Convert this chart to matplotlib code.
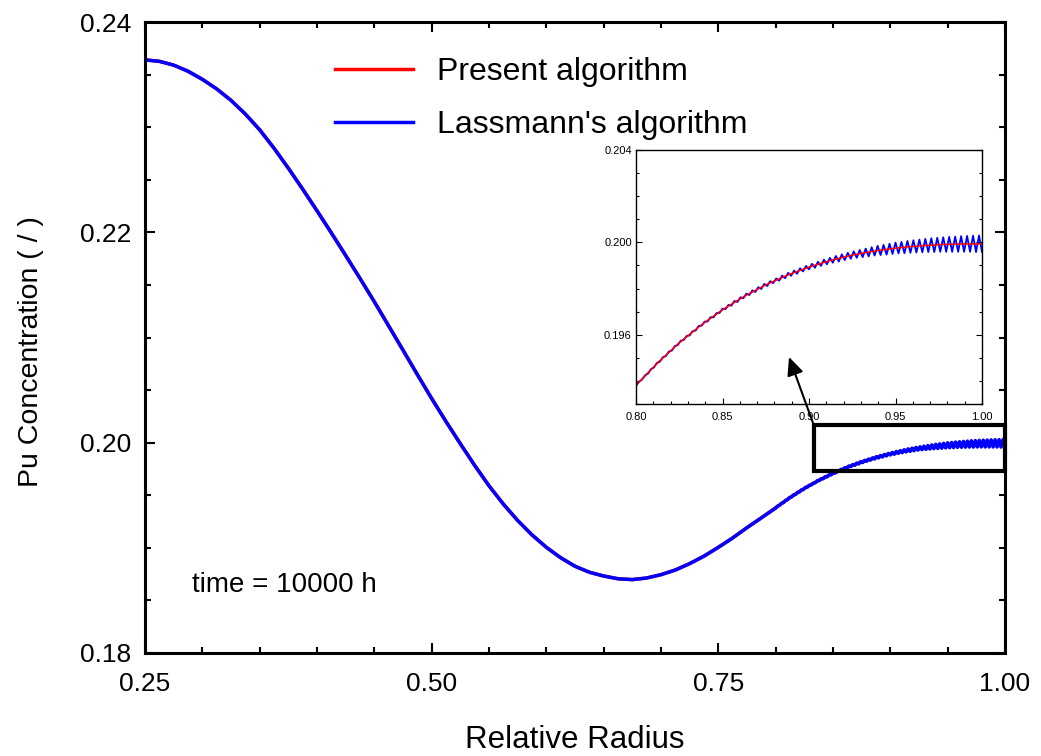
import numpy as np
import matplotlib
matplotlib.use('Agg')
import matplotlib.pyplot as plt
from matplotlib.patches import Rectangle
from matplotlib.ticker import MultipleLocator, FormatStrFormatter

plt.rcParams['font.family'] = ['Liberation Sans', 'DejaVu Sans']

# relative radius / Pu concentration (present algorithm)
radius = [0.2500, 0.2625, 0.2750, 0.2875, 0.3000, 0.3125, 0.3250, 0.3375,
          0.3500, 0.3625, 0.3750, 0.3875, 0.4000, 0.4125, 0.4250, 0.4375,
          0.4500, 0.4625, 0.4750, 0.4875, 0.5000, 0.5125, 0.5250, 0.5375,
          0.5500, 0.5625, 0.5750, 0.5875, 0.6000, 0.6125, 0.6250, 0.6375,
          0.6500, 0.6625, 0.6750, 0.6875, 0.7000, 0.7125, 0.7250, 0.7375,
          0.7500, 0.7625, 0.7750, 0.7875,
          0.8000, 0.8125, 0.8250, 0.8375, 0.8500, 0.8625, 0.8750, 0.8875,
          0.9000, 0.9125, 0.9250, 0.9375, 0.9500, 0.9625, 0.9750, 0.9875,
          1.0000]
pu_present = [0.23640, 0.23626, 0.23590, 0.23532, 0.23455, 0.23364, 0.23255,
              0.23125, 0.22975, 0.22800, 0.22610, 0.22411, 0.22205, 0.21995,
              0.21780, 0.21562, 0.21340, 0.21111, 0.20880, 0.20648, 0.20420,
              0.20201, 0.19990, 0.19784, 0.19590, 0.19416, 0.19260, 0.19123,
              0.19005, 0.18906, 0.18825, 0.18768, 0.18732, 0.18706, 0.18698,
              0.18713, 0.18745, 0.18789, 0.18850, 0.18921, 0.19005, 0.19094,
              0.19192, 0.19285,
              0.19381, 0.19478, 0.19565, 0.19641, 0.19708, 0.19766, 0.19816,
              0.19858, 0.19893, 0.19922, 0.19945, 0.19962, 0.19975, 0.19984,
              0.19990, 0.19993, 0.19994]

# Lassmann's algorithm: zig-zag on the outer part (0.80 - 1.00, 117 nodes)
lass_outer_r = np.linspace(0.80, 1.00, 117)
lass_outer_pu = [
    0.19378, 0.19397, 0.19405, 0.19424, 0.19431, 0.19451, 0.19458, 0.19478,
    0.19483, 0.19503, 0.19507, 0.19527, 0.19531, 0.19551, 0.19555, 0.19574,
    0.19577, 0.19595, 0.19597, 0.19616, 0.19618, 0.19638, 0.19639, 0.19657,
    0.19657, 0.19676, 0.19675, 0.19694, 0.19694, 0.19713, 0.19711, 0.19729,
    0.19726, 0.19746, 0.19742, 0.19762, 0.19758, 0.19778, 0.19772, 0.19792,
    0.19785, 0.19806, 0.19798, 0.19820, 0.19811, 0.19832, 0.19823, 0.19844,
    0.19834, 0.19856, 0.19845, 0.19868, 0.19855, 0.19878, 0.19864, 0.19888,
    0.19874, 0.19898, 0.19883, 0.19907, 0.19890, 0.19916, 0.19898, 0.19925,
    0.19905, 0.19933, 0.19912, 0.19941, 0.19917, 0.19948, 0.19923, 0.19955,
    0.19929, 0.19961, 0.19933, 0.19967, 0.19936, 0.19973, 0.19939, 0.19979,
    0.19943, 0.19985, 0.19945, 0.19989, 0.19947, 0.19994, 0.19950, 0.19999,
    0.19952, 0.20002, 0.19953, 0.20006, 0.19955, 0.20009, 0.19956, 0.20012,
    0.19957, 0.20015, 0.19958, 0.20018, 0.19958, 0.20020, 0.19959, 0.20022,
    0.19959, 0.20024, 0.19959, 0.20025, 0.19959, 0.20027, 0.19959, 0.20028,
    0.19959, 0.20029, 0.19958, 0.20030, 0.19958]

# inner part identical to the present algorithm
lass_r = [r for r in radius if r < 0.8] + list(lass_outer_r)
lass_pu = [p for r, p in zip(radius, pu_present) if r < 0.8] + lass_outer_pu

fig = plt.figure(figsize=(10.41, 7.56), dpi=100)
ax = fig.add_axes([145/1041, 1-653/756, 860/1041, 631/756])

ax.plot(radius, pu_present, color='red', lw=2.5, label='Present algorithm')
ax.plot(lass_r, lass_pu, color='blue', lw=2.5, label="Lassmann's algorithm")
ax.set_xlim(0.25, 1.0)
ax.set_ylim(0.18, 0.24)
ax.xaxis.set_major_locator(MultipleLocator(0.25))
ax.xaxis.set_minor_locator(MultipleLocator(0.05))
ax.yaxis.set_major_locator(MultipleLocator(0.02))
ax.yaxis.set_minor_locator(MultipleLocator(0.005))
ax.xaxis.set_major_formatter(FormatStrFormatter('%.2f'))
ax.yaxis.set_major_formatter(FormatStrFormatter('%.2f'))
ax.tick_params(which='both', direction='in', top=True, right=True,
               labelsize=19, width=1.5, pad=10)
ax.tick_params(axis='x', which='both', pad=14)
ax.tick_params(which='major', length=7)
ax.tick_params(which='minor', length=4.5)
for s in ax.spines.values():
    s.set_linewidth(2.2)

ax.set_xlabel('Relative Radius', fontsize=22.5)
ax.set_ylabel('Pu Concentration ( / )', fontsize=20.5)
ax.xaxis.set_label_coords(0.5, -0.114)
ax.yaxis.set_label_coords(-0.117, 0.477)

ax.legend(loc='upper left', bbox_to_anchor=(335/1041, 1-57/756),
          bbox_transform=fig.transFigure, frameon=False, fontsize=23,
          handlelength=2.44, handletextpad=0.75, labelspacing=0.72,
          borderpad=0, borderaxespad=0)

ax.text(0.0547, 0.1078, 'time = 10000 h', transform=ax.transAxes,
        fontsize=20, va='center', ha='left')

# box marking the zoomed region
ax.add_patch(Rectangle((0.8335, 0.19732), 1.0-0.8335, 0.20169-0.19732,
                       fill=False, lw=3, ec='k', clip_on=False, zorder=5))

# zoomed inset
ins = fig.add_axes([636/1041, 1-404/756, 346/1041, 254/756])
ins.plot(lass_r, lass_pu, color='blue', lw=1.3)
ins.plot(radius, pu_present, color='red', lw=1.1)
ins.set_xlim(0.8, 1.0)
ins.set_ylim(0.193, 0.204)
ins.xaxis.set_major_locator(MultipleLocator(0.05))
ins.xaxis.set_minor_locator(MultipleLocator(0.01))
ins.yaxis.set_major_locator(MultipleLocator(0.004))
ins.yaxis.set_minor_locator(MultipleLocator(0.001))
ins.xaxis.set_major_formatter(FormatStrFormatter('%.2f'))
ins.yaxis.set_major_formatter(FormatStrFormatter('%.3f'))
ins.tick_params(which='both', direction='in', right=True, top=False,
                labelsize=8, width=0.8, pad=3)
ins.tick_params(axis='x', which='both', pad=6)
ins.tick_params(which='major', length=4)
ins.tick_params(which='minor', length=2.5)
for s in ins.spines.values():
    s.set_linewidth(1.0)

ins.annotate('', xy=(789, 399), xycoords='figure pixels',
             xytext=(813, 333), textcoords='figure pixels',
             arrowprops=dict(arrowstyle='-|>,head_length=0.55,head_width=0.25',
                             lw=1.5, color='k', shrinkA=0, shrinkB=0,
                             mutation_scale=20),
             annotation_clip=False)

fig.savefig('out.png', dpi=100)
